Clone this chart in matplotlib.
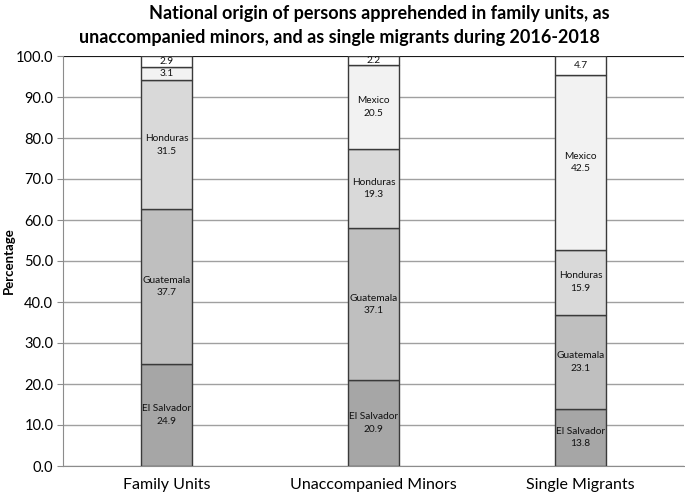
import matplotlib
matplotlib.use('Agg')
import matplotlib.pyplot as plt
import numpy as np

plt.rcParams['font.family'] = ['Lato', 'DejaVu Sans']

# data
groups = ['Family Units', 'Unaccompanied Minors', 'Single Migrants']
countries = ['El Salvador', 'Guatemala', 'Honduras', 'Mexico', 'Other']
el_salvador = [24.9, 20.9, 13.8]
guatemala = [37.7, 37.1, 23.1]
honduras = [31.5, 19.3, 15.9]
mexico = [3.1, 20.5, 42.5]
other = [2.9, 2.2, 4.7]
yticks = np.arange(0, 101, 10)

series = [el_salvador, guatemala, honduras, mexico, other]
colors = ['#a6a6a6', '#bfbfbf', '#d9d9d9', '#f2f2f2', '#ffffff']

fig = plt.figure(figsize=(6.85, 4.97), dpi=100)
ax = fig.add_axes([63 / 685, 31 / 497, 621 / 685, 410 / 497])

x = np.arange(len(groups))
bottom = np.zeros(len(groups))
for name, vals, col in zip(countries, series, colors):
    vals = np.array(vals)
    ax.bar(x, vals, width=0.25, bottom=bottom, color=col,
           edgecolor='#3a3a3a', linewidth=1.0, zorder=3)
    for xi, b, v in zip(x, bottom, vals):
        # small segments only get the number
        if v < 6:
            lab = f'{v:.1f}'
        else:
            lab = f'{name}\n{v:.1f}'
        ax.text(xi, b + v / 2, lab, ha='center', va='center', fontsize=7.3,
                color='#111111', linespacing=1.5, zorder=4)
    bottom += vals

ax.set_xlim(-0.5, 2.5)
ax.set_ylim(0, 100)
ax.set_yticks(yticks)
ax.set_yticklabels([f'{t:.1f}' for t in yticks], fontsize=10.5)
ax.set_xticks(x)
ax.set_xticklabels(groups, fontsize=11.5)
ax.tick_params(axis='x', length=0, pad=9)
ax.tick_params(axis='y', length=4, color='#8c8c8c', pad=3)
ax.yaxis.grid(True, color='#a0a0a0', linewidth=1.0, zorder=0)
ax.axhline(100, color='#000000', linewidth=1.2, zorder=2)

for s in ['top', 'right']:
    ax.spines[s].set_visible(False)
ax.spines['left'].set_color('#8c8c8c')
ax.spines['bottom'].set_color('#8c8c8c')

# y label placed by hand so it stays inside the figure
fig.text(9 / 685, 1 - 261 / 497, 'Percentage', rotation=90,
         ha='center', va='center', fontsize=9.5, fontweight='bold')

fig.text(379 / 685, 1 - 14 / 497,
         'National origin of persons apprehended in family units, as',
         ha='center', va='center', fontsize=13, fontweight='bold')
fig.text(339 / 685, 1 - 37 / 497,
         'unaccompanied minors, and as single migrants during 2016-2018',
         ha='center', va='center', fontsize=13, fontweight='bold')

fig.savefig('out.png', dpi=100)
